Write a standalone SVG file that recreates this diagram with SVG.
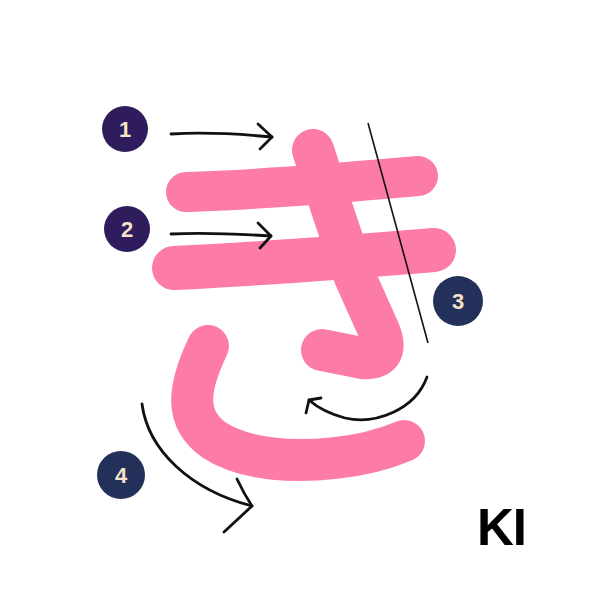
<svg xmlns="http://www.w3.org/2000/svg" width="600" height="600" viewBox="0 0 600 600">
<style>
.pk{fill:none;stroke:#fd7ba9;stroke-linecap:round;stroke-linejoin:round}
.ar{fill:none;stroke:#111;stroke-width:2.8;stroke-linecap:round;stroke-linejoin:round}
.num{font-family:"Liberation Sans",Arial,sans-serif;font-weight:bold;font-size:22px;fill:#f8e2c8;text-anchor:middle}
.badge1{fill:#2e1c5c}
.badge2{fill:#22305a}
</style>
<rect width="600" height="600" fill="#fff"/>
<g id="strokes">
<path class="pk" stroke-width="40" d="M186,192 C260,190 340,183 418,176"/>
<path class="pk" stroke-width="44" d="M174,268 C260,264 350,257 434,250"/>
<path class="pk" stroke-width="42" d="M313,150 L333,212 L355,277 L380,333 Q390,360 362,358 L322,350"/>
<path class="pk" stroke-width="42" d="M208,346 C186,392 186,420 214,440 C248,462 300,462 335,458 C365,455 385,449 404,441"/>
</g>
<g id="connectors">
<line x1="368" y1="123" x2="428" y2="343" stroke="#111" stroke-width="1.6"/>
<path class="ar" d="M171,134 C205,132 240,134 272,137"/>
<path class="ar" d="M258,124 L272,137 L260,149"/>
<path class="ar" d="M171,234 C205,232 240,234 271,236"/>
<path class="ar" d="M258,223 L271,236 L260,248"/>
<path class="ar" d="M427,377 C415,410 375,425 345,418 C330,414 318,408 309,400"/>
<path class="ar" d="M321,398 L309,400 L306,413"/>
<path class="ar" d="M142,404 C148,450 190,490 252,506"/>
<path class="ar" d="M237,479 Q244,494 252,506 L224,532"/>
</g>
<g id="n1"><circle class="badge1" cx="125" cy="129" r="23"/><text class="num" x="125" y="137">1</text></g>
<g id="n2"><circle class="badge1" cx="127" cy="229" r="23"/><text class="num" x="127" y="237">2</text></g>
<g id="n3"><circle class="badge2" cx="458" cy="301" r="25"/><text class="num" x="458" y="309">3</text></g>
<g id="n4"><circle class="badge2" cx="121" cy="475" r="24"/><text class="num" x="121" y="483">4</text></g>
<text x="477" y="545" font-family="'Liberation Sans',Arial,sans-serif" font-weight="bold" font-size="51" letter-spacing="-1" fill="#000">KI</text>
</svg>
